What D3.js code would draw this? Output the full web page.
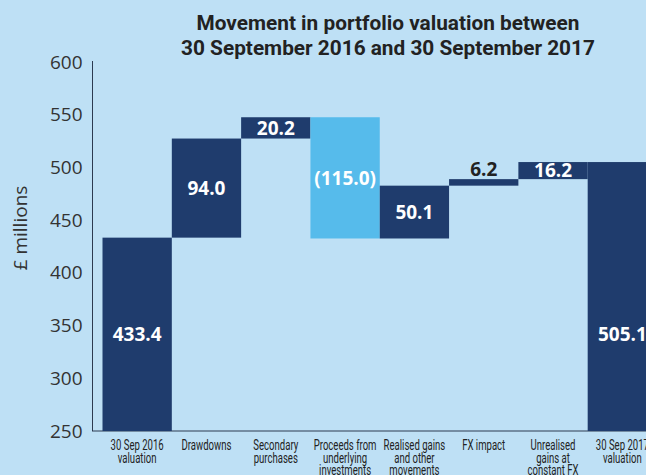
<!DOCTYPE html>
<html>
<head>
<meta charset="utf-8">
<script src="https://cdn.jsdelivr.net/npm/d3@7"></script>
<style>
  html, body { margin: 0; padding: 0; background: #bee0f5; overflow: hidden; }
  svg { display: block; }
</style>
</head>
<body>
<svg id="plot"></svg>
<script>
// chart data
const categories = [
    ["30 Sep 2016", "valuation"],
    ["Drawdowns"],
    ["Secondary", "purchases"],
    ["Proceeds from", "underlying", "investments"],
    ["Realised gains", "and other", "movements"],
    ["FX impact"],
    ["Unrealised", "gains at", "constant FX"],
    ["30 Sep 2017", "valuation"]
];
const values = [433.4, 94.0, 20.2, -115.0, 50.1, 6.2, 16.2, 505.1];
const isTotal = [true, false, false, false, false, false, false, true];
const valueLabels = ["433.4", "94.0", "20.2", "(115.0)", "50.1", "6.2", "16.2", "505.1"];
const yTicks = [250, 300, 350, 400, 450, 500, 550, 600];
const titleLines = ["Movement in portfolio valuation between", "30 September 2016 and 30 September 2017"];

// init setting
const svg = d3.select("#plot")
    .attr("width", 646)
    .attr("height", 475);
const navy = "#1f3c6d";
const lightBlue = "#56bbeb";

// build waterfall steps
let running = 0;
const steps = values.map((v, i) => {
    let start, end;
    if (isTotal[i]) { start = 250; end = v; running = v; }
    else { start = running; end = running + v; running = end; }
    return { i, v, start, end, label: valueLabels[i], total: isTotal[i] };
});

// scales
const xScale = d3.scaleBand()
    .domain(d3.range(categories.length))
    .range([102.5, 657])
    .padding(0);
const yScale = d3.scaleLinear()
    .domain([250, 600])
    .range([431, 62]);

// title
svg.append("text")
    .attr("x", 388)
    .attr("y", 30)
    .style("text-anchor", "middle")
    .style("font-family", "Roboto")
    .style("font-weight", "bold")
    .style("font-size", "20.8px")
    .style("fill", "#222")
    .selectAll("tspan")
    .data(titleLines)
    .enter().append("tspan")
    .attr("x", 388)
    .attr("dy", (d, i) => i === 0 ? 0 : 25)
    .text(d => d);

// y axis
const yAxis = d3.axisLeft(yScale)
    .tickValues(yTicks)
    .tickSize(0)
    .tickPadding(10);
const yAxisG = svg.append("g")
    .attr("transform", "translate(92.5, 0)")
    .call(yAxis);
yAxisG.select(".domain").remove();
yAxisG.selectAll("text")
    .style("font-family", "Open Sans")
    .style("font-size", "19px")
    .style("fill", "#333");

// axis lines
svg.append("line")
    .attr("x1", 92.5).attr("x2", 92.5)
    .attr("y1", 61).attr("y2", 431)
    .style("stroke", "#2c3a50");
svg.append("line")
    .attr("x1", 92).attr("x2", 646)
    .attr("y1", 431).attr("y2", 431)
    .style("stroke", "#2c3a50");

// y axis label
svg.append("text")
    .attr("transform", "translate(27, 228) rotate(-90)")
    .style("text-anchor", "middle")
    .style("font-family", "Open Sans")
    .style("font-size", "19px")
    .style("fill", "#333")
    .text("£ millions");

// bars
svg.selectAll(".bar")
    .data(steps)
    .enter().append("rect")
    .attr("class", "bar")
    .attr("x", d => xScale(d.i))
    .attr("width", xScale.bandwidth())
    .attr("y", d => yScale(Math.max(d.start, d.end)))
    .attr("height", d => Math.abs(yScale(d.start) - yScale(d.end)))
    .style("fill", d => d.v < 0 ? lightBlue : navy);

// value labels
const small = d => !d.total && Math.abs(d.v) < 10;
svg.selectAll(".value")
    .data(steps)
    .enter().append("text")
    .attr("class", "value")
    .attr("x", d => xScale(d.i) + xScale.bandwidth() / 2)
    .attr("y", d => {
        if (d.total) return yScale((250 + values[0]) / 2);
        if (small(d)) return yScale(Math.max(d.start, d.end)) - 3;
        return yScale((d.start + d.end) / 2);
    })
    .attr("dy", d => small(d) ? 0 : "0.36em")
    .style("text-anchor", "middle")
    .style("font-family", "Open Sans")
    .style("font-weight", "bold")
    .style("font-size", "19px")
    .style("fill", d => small(d) ? "#222" : "white")
    .text(d => d.label);

// category labels (condensed look)
const cat = svg.selectAll(".cat")
    .data(categories)
    .enter().append("text")
    .attr("class", "cat")
    .attr("transform", (d, i) => `translate(${xScale(i) + xScale.bandwidth() / 2}, 450) scale(0.66, 1)`)
    .style("text-anchor", "middle")
    .style("font-family", "Roboto")
    .style("font-size", "14.5px")
    .style("fill", "#222");
cat.selectAll("tspan")
    .data(d => d)
    .enter().append("tspan")
    .attr("x", 0)
    .attr("dy", (d, i) => i === 0 ? 0 : 12.6)
    .text(d => d);
</script>
</body>
</html>
